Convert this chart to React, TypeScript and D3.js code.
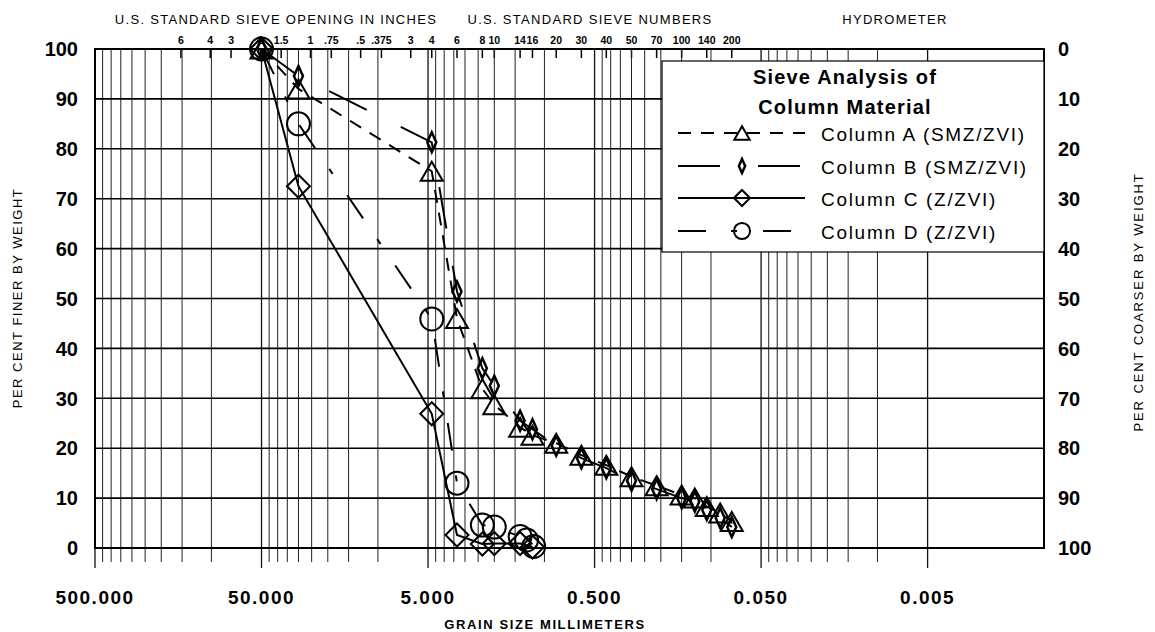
import React from 'react';
import * as d3 from 'd3';

const W = 1155;
const H = 632;
const FONT = "'Liberation Sans', Arial, Helvetica, sans-serif";

// ---------- data ----------
const yTicks = [0, 10, 20, 30, 40, 50, 60, 70, 80, 90, 100];
const majorSizes = [500, 50, 5, 0.5, 0.05, 0.005];
const majorLabels = ['500.000', '50.000', '5.000', '0.500', '0.050', '0.005'];
const minorMultipliers = [2, 3, 4, 5, 6, 7, 8, 9];
const minorDecadeBases = [50, 5, 0.5, 0.05, 0.005];

const sieveLabels = ['6', '4', '3', '2', '1.5', '1', '.75', '.5', '.375', '3', '4', '6', '8', '10', '14', '16', '20', '30', '40', '50', '70', '100', '140', '200'];
const sieveMm = [152.4, 101.6, 76.2, 50.8, 38.1, 25.4, 19.05, 12.7, 9.525, 6.35, 4.75, 3.35, 2.36, 2.0, 1.4, 1.18, 0.85, 0.6, 0.425, 0.3, 0.212, 0.15, 0.106, 0.075];

const headerTitles = ['U.S. STANDARD SIEVE OPENING IN INCHES', 'U.S. STANDARD SIEVE NUMBERS', 'HYDROMETER'];

const colAmm = [50, 30, 4.75, 3.35, 2.36, 2.0, 1.4, 1.18, 0.85, 0.6, 0.425, 0.3, 0.212, 0.15, 0.125, 0.106, 0.088, 0.075];
const colApct = [100, 92, 75.5, 46, 31.9, 28.7, 24.2, 22.6, 21, 18.6, 16.6, 14.3, 12.5, 10.6, 10, 8.3, 7, 5.3];

const colBmm = [50, 30, 4.75, 3.35, 2.36, 2.0, 1.4, 1.18, 0.85, 0.6, 0.425, 0.3, 0.212, 0.15, 0.125, 0.106, 0.088, 0.075];
const colBpct = [100, 94.6, 81.3, 51.4, 36, 32.5, 25.5, 23.8, 20.5, 18, 16, 13.5, 11.8, 10, 9.3, 7.6, 6, 4.2];

const colCmm = [50, 30, 4.75, 3.35, 2.36, 2.0, 1.4, 1.18];
const colCpct = [100, 72.5, 26.9, 2.6, 0.8, 0.9, 0.9, 0.2];

const colDmm = [50, 30, 4.75, 3.35, 2.36, 2.0, 1.4, 1.28, 1.16];
const colDpct = [100, 85, 45.9, 13, 4.6, 4.2, 2.3, 1.6, 0.3];

const legendTitle = ['Sieve Analysis of', 'Column Material'];
const seriesNames = ['Column A (SMZ/ZVI)', 'Column B (SMZ/ZVI)', 'Column C (Z/ZVI)', 'Column D (Z/ZVI)'];
const seriesMarkers = ['triangle', 'thinDiamond', 'diamond', 'circle'];
const seriesDash = ['13,10', '42,38', null, '28,25,6,26'];

// ---------- layout ----------
const plot = { left: 95, right: 1044, top: 49, bottom: 548 };

const x = d3.scaleLog().domain([500, 0.001]).range([plot.left, plot.right]);
const y = d3.scaleLinear().domain([0, 100]).range([plot.bottom, plot.top]);

type Pt = [number, number];
const zip = (a: number[], b: number[]): Pt[] => a.map((v, i) => [v, b[i]]);

const lineGen = d3.line<Pt>().x(d => x(d[0])).y(d => y(d[1]));

function Marker({ type, cx, cy, s = 1 }: { type: string; cx: number; cy: number; s?: number }) {
  const common = { fill: 'none', stroke: '#000', strokeWidth: 2 };
  if (type === 'triangle') {
    const w = 22 * s, h = 19 * s;
    return <path d={`M${cx},${cy - h / 2}L${cx + w / 2},${cy + h / 2}L${cx - w / 2},${cy + h / 2}Z`} {...common} />;
  }
  if (type === 'thinDiamond') {
    const w = 4.5 * s, h = 10 * s;
    return <path d={`M${cx},${cy - h}L${cx + w},${cy}L${cx},${cy + h}L${cx - w},${cy}Z`} {...common} strokeWidth={2.5} />;
  }
  if (type === 'diamond') {
    const r = 11.5 * s;
    return <path d={`M${cx},${cy - r}L${cx + r},${cy}L${cx},${cy + r}L${cx - r},${cy}Z`} {...common} />;
  }
  return <circle cx={cx} cy={cy} r={11.5 * s} {...common} />;
}

export default function App() {
  const minorSizes: number[] = [];
  minorDecadeBases.forEach(b => minorMultipliers.forEach(m => minorSizes.push(b * m)));

  const series = [zip(colAmm, colApct), zip(colBmm, colBpct), zip(colCmm, colCpct), zip(colDmm, colDpct)];

  const leg = { left: 662, top: 61, right: 1044, bottom: 252 };
  const legRowY = [133, 166, 198, 231];

  return (
    <svg width={W} height={H} style={{ position: 'absolute', left: 0, top: 0, background: '#fff' }} fontFamily={FONT}>
      <rect x={0} y={0} width={W} height={H} fill="#fff" />

      {/* header titles */}
      <g fontSize={13} letterSpacing={1.3} fill="#000">
        <text x={276} y={24} textAnchor="middle">{headerTitles[0]}</text>
        <text x={590} y={24} textAnchor="middle">{headerTitles[1]}</text>
        <text x={895} y={24} textAnchor="middle">{headerTitles[2]}</text>
      </g>

      {/* sieve labels and ticks */}
      <g fontSize={10.5} fontWeight="bold" fill="#000" textAnchor="middle">
        {sieveLabels.map((l, i) => (
          <text key={i} x={x(sieveMm[i])} y={44}>{l}</text>
        ))}
      </g>
      {sieveMm.map((d, i) => (
        <line key={i} x1={x(d)} x2={x(d)} y1={plot.top} y2={plot.top + 9} stroke="#000" strokeWidth={1.5} />
      ))}

      {/* vertical gridlines */}
      {minorSizes.map((d, i) => (
        <line key={'mi' + i} x1={x(d)} x2={x(d)} y1={plot.top} y2={plot.bottom + 14} stroke="#222" strokeWidth={1} />
      ))}
      {majorSizes.map((d, i) => (
        <line key={'ma' + i} x1={x(d)} x2={x(d)} y1={plot.top} y2={plot.bottom + 20} stroke="#111" strokeWidth={1.3} />
      ))}

      {/* horizontal gridlines */}
      {yTicks.map(t => (
        <line key={t} x1={plot.left} x2={plot.right} y1={y(t)} y2={y(t)} stroke="#000" strokeWidth={1.6} />
      ))}
      <rect x={plot.left} y={plot.top} width={plot.right - plot.left} height={plot.bottom - plot.top} fill="none" stroke="#000" strokeWidth={2} />

      {/* y labels */}
      <g fontSize={20} fontWeight="bold" fill="#000">
        {yTicks.map(t => (
          <text key={'l' + t} x={78} y={y(t)} dy="0.36em" textAnchor="end">{t}</text>
        ))}
        {yTicks.map(t => (
          <text key={'r' + t} x={1058} y={y(t)} dy="0.36em" textAnchor="start">{100 - t}</text>
        ))}
      </g>

      {/* x labels */}
      <g fontSize={19} fontWeight="bold" fill="#000" letterSpacing={1.5}>
        {majorSizes.map((d, i) => (
          <text key={i} x={x(d)} y={604} textAnchor="middle">{majorLabels[i]}</text>
        ))}
      </g>

      {/* axis titles */}
      <text x={545} y={629} textAnchor="middle" fontSize={13} fontWeight="bold" letterSpacing={1.6}>GRAIN SIZE MILLIMETERS</text>
      <text transform="translate(22,298) rotate(-90)" textAnchor="middle" fontSize={13} letterSpacing={1.5}>PER CENT FINER BY WEIGHT</text>
      <text transform="translate(1143,302) rotate(-90)" textAnchor="middle" fontSize={13} letterSpacing={1.9}>PER CENT COARSER BY WEIGHT</text>

      {/* series lines */}
      {series.map((s, i) => (
        <path key={'line' + i} d={lineGen(s) || ''} fill="none" stroke="#000" strokeWidth={2} strokeDasharray={seriesDash[i] || undefined} />
      ))}
      {series.map((s, i) => (
        <g key={'mk' + i}>
          {s.map((p, j) => (
            <Marker key={j} type={seriesMarkers[i]} cx={x(p[0])} cy={y(p[1])} />
          ))}
        </g>
      ))}

      {/* legend */}
      <rect x={leg.left} y={leg.top} width={leg.right - leg.left} height={leg.bottom - leg.top} fill="#fff" stroke="#000" strokeWidth={1.2} />
      <g fontSize={20} fontWeight="bold" textAnchor="middle" letterSpacing={1.2}>
        <text x={845} y={84}>{legendTitle[0]}</text>
        <text x={845} y={114}>{legendTitle[1]}</text>
      </g>
      {seriesNames.map((n, i) => (
        <g key={'lg' + i}>
          <line x1={678} x2={805} y1={legRowY[i]} y2={legRowY[i]} stroke="#000" strokeWidth={2} strokeDasharray={seriesDash[i] || undefined} />
          <Marker type={seriesMarkers[i]} cx={742} cy={legRowY[i]} s={0.7} />
          <text x={821} y={legRowY[i] + 8} fontSize={19} letterSpacing={1.7}>{n}</text>
        </g>
      ))}
    </svg>
  );
}
